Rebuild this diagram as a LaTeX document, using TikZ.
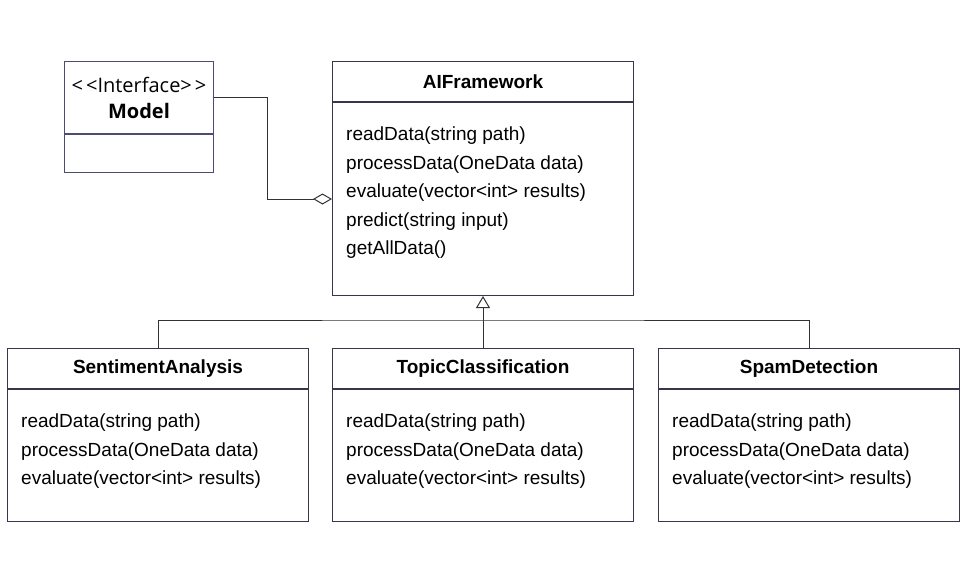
\documentclass[tikz,border=0pt]{standalone}
\usepackage{fontspec}
\setmainfont{Liberation Sans}
\newfontfamily\ifacefont{Open Sans}
\usetikzlibrary{arrows.meta,positioning}

\definecolor{boxline}{RGB}{55,55,75}
\definecolor{ifaceline}{RGB}{75,75,115}
\definecolor{linkline}{RGB}{50,50,50}

\tikzset{
  classhead/.style={draw=boxline, line width=1pt, minimum width=301pt, minimum height=40pt,
    inner sep=0pt, anchor=north west, font=\fontsize{19}{23}\selectfont\bfseries},
  classbody/.style={draw=boxline, line width=1pt, minimum width=301pt, inner sep=0pt},
  methods/.style={anchor=north west, align=left, inner sep=0pt, font=\fontsize{19}{28.5}\selectfont},
  ifacehead/.style={draw=ifaceline, line width=1pt, minimum width=149pt, minimum height=72pt,
    inner sep=0pt, anchor=north west, align=center, font=\ifacefont\fontsize{20}{26}\selectfont},
  ifacebody/.style={draw=ifaceline, line width=1pt, minimum width=149pt, minimum height=38pt, inner sep=0pt},
  link/.style={draw=linkline, line width=1pt},
  aggr/.style={link, -{Diamond[open, length=19pt, width=11pt]}},
  inherit/.style={link, -{Triangle[open, length=12pt, width=14pt]}}
}

\begin{document}
\begin{tikzpicture}[x=1pt,y=-1pt]
  \useasboundingbox (0,0) rectangle (975,560);

  % interface
  \node[ifacehead] (model) at (64,61) {{<}\kern3pt{<}Interface{>}\kern3pt{>}\\\textbf{Model}};
  \node[ifacebody, below=0pt of model] (modelb) {};

  % base class
  \node[classhead] (fw) at (332,61) {AIFramework};
  \node[classbody, minimum height=193pt, below=0pt of fw] (fwb) {};
  \node[methods] (fwm) at ([xshift=14pt,yshift=-25pt]fwb.north west)
    {readData(string path)\\processData(OneData data)\\evaluate(vector<int> results)\\predict(string input)\\getAllData()};

  % subclasses
  \node[classhead] (sa) at (7,348) {SentimentAnalysis};
  \node[classbody, minimum height=132pt, below=0pt of sa] (sab) {};
  \node[methods] (sam) at ([xshift=14pt,yshift=-25pt]sab.north west)
    {readData(string path)\\processData(OneData data)\\evaluate(vector<int> results)};

  \node[classhead] (tc) at (332,348) {TopicClassification};
  \node[classbody, minimum height=132pt, below=0pt of tc] (tcb) {};
  \node[methods] (tcm) at ([xshift=14pt,yshift=-25pt]tcb.north west)
    {readData(string path)\\processData(OneData data)\\evaluate(vector<int> results)};

  \node[classhead] (sd) at (658,348) {SpamDetection};
  \node[classbody, minimum height=132pt, below=0pt of sd] (sdb) {};
  \node[methods] (sdm) at ([xshift=14pt,yshift=-25pt]sdb.north west)
    {readData(string path)\\processData(OneData data)\\evaluate(vector<int> results)};

  % connectors
  \draw[aggr] (model.east) -- ++(53,0) |- (fwb.west);
  \coordinate (bend) at (482.5,320);
  \draw[link] (sa.north) |- (bend) -| (sd.north);
  \draw[inherit] (tc.north) -- (fwb.south);
\end{tikzpicture}
\end{document}
